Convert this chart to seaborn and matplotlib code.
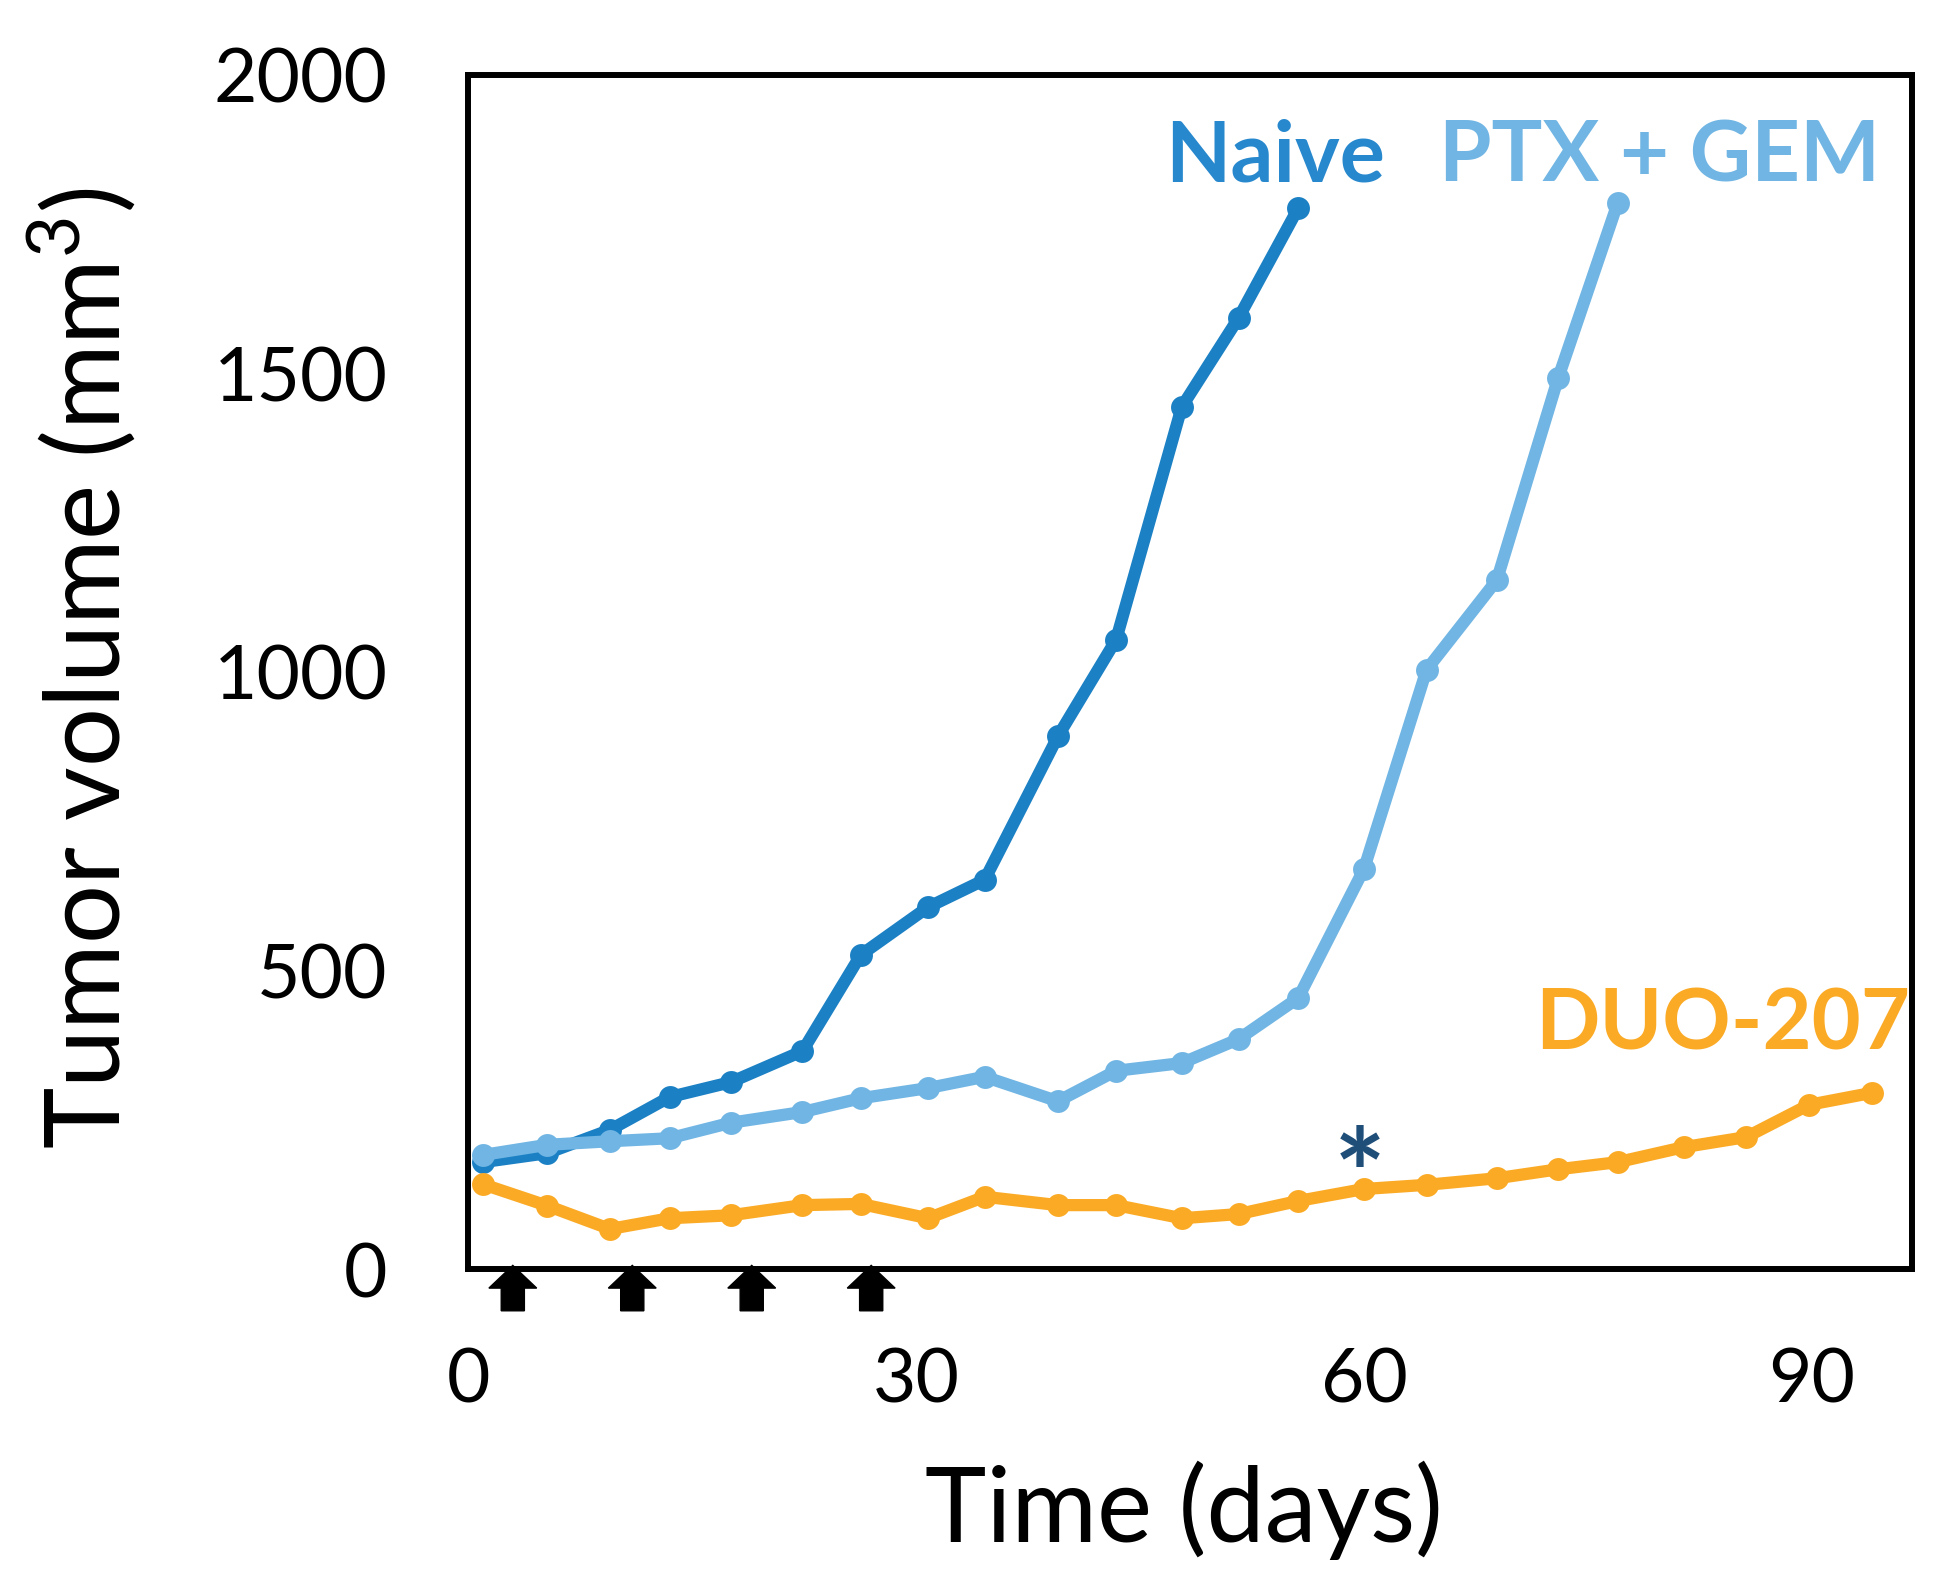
import numpy as np
import pandas as pd
import matplotlib
matplotlib.use("Agg")
import matplotlib.pyplot as plt
import seaborn as sns

# ---- data ----
days = [1.0, 5.3, 9.5, 13.5, 17.6, 22.4, 26.3, 30.8, 34.6, 39.5, 43.4, 47.8,
        51.6, 55.6, 60.0, 64.2, 68.9, 73.0, 77.0, 81.4, 85.6, 89.8, 94.0]
naive = [179, 194, 233, 288, 313, 365, 526, 606, 652, 892, 1054, 1444, 1593, 1777]
ptx_gem = [191, 208, 214, 219, 245, 263, 286, 303, 322, 281, 332, 345, 385, 454,
           670, 1004, 1154, 1492, 1786]
duo207 = [142, 106, 67, 85, 90, 107, 109, 85, 121, 107, 107, 85, 92, 114, 134,
          141, 152, 167, 179, 204, 221, 275, 295]
groups = ["Naive", "PTX + GEM", "DUO-207"]
dosing_days = [3, 11, 19, 27]
x_ticks = [0, 30, 60, 90]
y_ticks = [0, 500, 1000, 1500, 2000]

line_colors = {"Naive": "#1b80c4", "PTX + GEM": "#70b5e3", "DUO-207": "#fbaa26"}
label_colors = {"Naive": "#2788ce", "PTX + GEM": "#70b5e3", "DUO-207": "#fbaa26"}

frames = []
for g, vals in zip(groups, [naive, ptx_gem, duo207]):
    frames.append(pd.DataFrame({"day": days[:len(vals)], "volume": vals, "group": g}))
df = pd.concat(frames, ignore_index=True)

# ---- style ----
sns.set_style("white")
plt.rcParams["font.family"] = ["Lato", "DejaVu Sans"]
plt.rcParams["mathtext.fontset"] = "custom"
plt.rcParams["mathtext.rm"] = "Lato"
plt.rcParams["text.color"] = "black"
plt.rcParams["axes.labelcolor"] = "black"

fig = plt.figure(figsize=(19.42, 15.82), dpi=100)
ax = fig.add_axes([468 / 1942, 1 - 1269 / 1582, (1912 - 468) / 1942, (1269 - 75) / 1582])

sns.lineplot(data=df, x="day", y="volume", hue="group", hue_order=groups,
             palette=line_colors, marker="o", markersize=16.5, markeredgewidth=0,
             linewidth=8.8, estimator=None, sort=False, legend=False, ax=ax)

ax.set_xlim(0, 96.7)
ax.set_ylim(0, 2000)
ax.set_xticks(x_ticks)
ax.set_yticks(y_ticks)
ax.tick_params(axis="both", length=0, labelsize=54, colors="black")
ax.tick_params(axis="y", pad=58)
ax.tick_params(axis="x", pad=56)

for s in ax.spines.values():
    s.set_visible(True)
    s.set_linewidth(4.3)
    s.set_color("black")

ax.set_xlabel("Time (days)", fontsize=75, color="black")
ax.set_ylabel(r"Tumor volume (mm$^{\mathregular{3}}$)", fontsize=75, color="black")
ax.xaxis.label.set_verticalalignment("baseline")
ax.yaxis.label.set_verticalalignment("baseline")
ax.xaxis.set_label_coords(0.496, -0.2286)
ax.yaxis.set_label_coords(-0.241, 0.503)

# series labels
label_pos = {"Naive": (54.05, 1821), "PTX + GEM": (79.8, 1821), "DUO-207": (84.0, 368)}
for g in groups:
    x, y = label_pos[g]
    ax.text(x, y, g, color=label_colors[g], fontsize=61, fontweight="bold",
            ha="center", va="baseline")

# significance marker
ax.text(59.7, 86, "*", color="#1f4e79", fontsize=88, fontweight="bold",
        ha="center", va="baseline")

# dosing arrows under the x axis
for d in dosing_days:
    ax.arrow(d, -70, 0, 76, width=1.55, head_width=3.2, head_length=38,
             length_includes_head=True, color="black", clip_on=False, zorder=5)

fig.savefig("out.png", dpi=100)
